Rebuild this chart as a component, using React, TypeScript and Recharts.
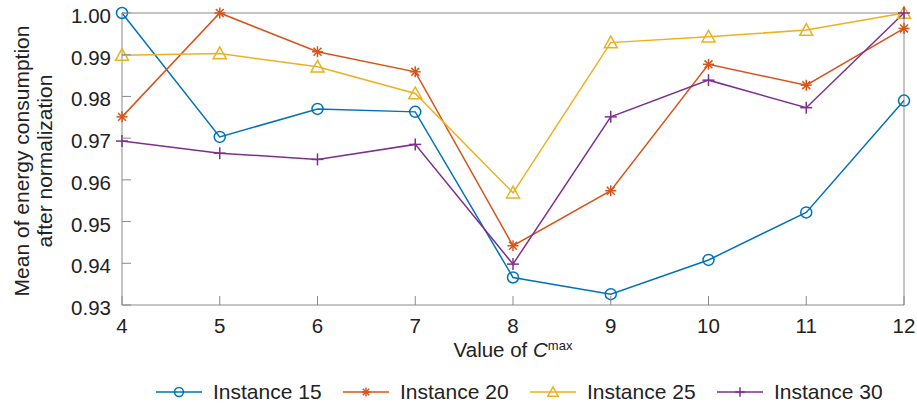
import React from "react";
import { LineChart, Line, XAxis, YAxis, ReferenceLine, Legend } from "recharts";

const cmaxValues = [4, 5, 6, 7, 8, 9, 10, 11, 12];
const instance15 = [1.0, 0.9703, 0.977, 0.9763, 0.9366, 0.9326, 0.9408, 0.9522, 0.979];
const instance20 = [0.9751, 1.0, 0.9907, 0.9859, 0.9442, 0.9574, 0.9877, 0.9827, 0.9963];
const instance25 = [0.9899, 0.9903, 0.9871, 0.9807, 0.9569, 0.9929, 0.9943, 0.9959, 1.0];
const instance30 = [0.9693, 0.9664, 0.9649, 0.9685, 0.9398, 0.9751, 0.9839, 0.9773, 1.0];
const yTicks = [0.93, 0.94, 0.95, 0.96, 0.97, 0.98, 0.99, 1.0];

const data = cmaxValues.map((c, i) => ({
  c,
  i15: instance15[i],
  i20: instance20[i],
  i25: instance25[i],
  i30: instance30[i],
}));

const FONT = "'Liberation Sans', Arial, Helvetica, sans-serif";
const TEXT = "#222";
const AXIS = "#8a8a8a";

type MarkerKind = "circle" | "star" | "triangle" | "plus";

const series: { key: string; name: string; color: string; marker: MarkerKind }[] = [
  { key: "i15", name: "Instance 15", color: "#0072BD", marker: "circle" },
  { key: "i20", name: "Instance 20", color: "#D95319", marker: "star" },
  { key: "i25", name: "Instance 25", color: "#EDB120", marker: "triangle" },
  { key: "i30", name: "Instance 30", color: "#7E2F8E", marker: "plus" },
];

function Marker({ kind, cx, cy, color, scale = 1 }: { kind: MarkerKind; cx: number; cy: number; color: string; scale?: number }) {
  const sw = 1.5;
  if (kind === "circle") {
    const r = 5.5 * scale;
    return <circle cx={cx} cy={cy} r={r} fill="none" stroke={color} strokeWidth={sw} />;
  }
  if (kind === "triangle") {
    const s = 6.5 * scale;
    const pts = `${cx},${cy - s} ${cx - s},${cy + s * 0.8} ${cx + s},${cy + s * 0.8}`;
    return <polygon points={pts} fill="none" stroke={color} strokeWidth={sw} />;
  }
  if (kind === "plus") {
    const s = 6 * scale;
    return (
      <g stroke={color} strokeWidth={sw}>
        <line x1={cx - s} x2={cx + s} y1={cy} y2={cy} />
        <line x1={cx} x2={cx} y1={cy - s} y2={cy + s} />
      </g>
    );
  }
  const s = 5.5 * scale;
  const d = s * 0.72;
  return (
    <g stroke={color} strokeWidth={sw}>
      <line x1={cx - s} x2={cx + s} y1={cy} y2={cy} />
      <line x1={cx} x2={cx} y1={cy - s} y2={cy + s} />
      <line x1={cx - d} x2={cx + d} y1={cy - d} y2={cy + d} />
      <line x1={cx - d} x2={cx + d} y1={cy + d} y2={cy - d} />
    </g>
  );
}

const makeDot = (kind: MarkerKind, color: string) => (props: any) => {
  const { cx, cy, index } = props;
  if (cx == null || cy == null) return <g key={`d-${index}`} />;
  return (
    <g key={`d-${kind}-${index}`}>
      <Marker kind={kind} cx={cx} cy={cy} color={color} />
    </g>
  );
};

const XTick = (props: any) => {
  const { x, y, payload } = props;
  return (
    <g>
      <line x1={x} x2={x} y1={y} y2={y - 9} stroke={AXIS} strokeWidth={1} />
      <text x={x} y={y + 28} textAnchor="middle" fontSize={20.5} fontFamily={FONT} fill={TEXT}>
        {payload.value}
      </text>
    </g>
  );
};

const YTick = (props: any) => {
  const { x, y, payload } = props;
  return (
    <g>
      <line x1={x} x2={x + 9} y1={y} y2={y} stroke={AXIS} strokeWidth={1} />
      <text x={x - 11} y={y + 10} textAnchor="end" fontSize={20.5} fontFamily={FONT} fill={TEXT}>
        {Number(payload.value).toFixed(2)}
      </text>
    </g>
  );
};

const XLabel = (props: any) => {
  const vb = props.viewBox || { x: 122, width: 782, y: 305 };
  const cx = vb.x + vb.width / 2;
  return (
    <text x={cx} y={357} textAnchor="middle" fontSize={20.5} fontFamily={FONT} fill={TEXT}>
      Value of <tspan fontStyle="italic">C</tspan>
      <tspan fontSize={13} dy={-7}>max</tspan>
    </text>
  );
};

const YLabel = () => (
  <text
    transform="translate(29,161) rotate(-90)"
    textAnchor="middle"
    fontSize={21}
    fontFamily={FONT}
    fill={TEXT}
  >
    <tspan x={0} y={0}>Mean of energy consumption</tspan>
    <tspan x={0} y={23}>after normalization</tspan>
  </text>
);

const LegendContent = () => (
  <div
    style={{
      display: "flex",
      alignItems: "center",
      height: 30,
      paddingLeft: 156,
      paddingTop: 3,
      fontFamily: FONT,
      fontSize: 21,
      color: TEXT,
      whiteSpace: "nowrap",
      boxSizing: "border-box",
    }}
  >
    {series.map((s) => (
      <div key={s.key} style={{ display: "flex", alignItems: "center", width: 187, flex: "0 0 187px" }}>
        <svg width={46} height={20} style={{ display: "block" }}>
          <line x1={0} x2={46} y1={10} y2={10} stroke={s.color} strokeWidth={1.5} />
          <Marker kind={s.marker} cx={23} cy={10} color={s.color} scale={0.8} />
        </svg>
        <span style={{ marginLeft: 11 }}>{s.name}</span>
      </div>
    ))}
  </div>
);

export default function App() {
  return (
    <div style={{ position: "absolute", left: 0, top: 0, width: 917, height: 405, background: "#fff" }}>
      <LineChart width={917} height={405} data={data} margin={{ top: 13, right: 13, left: 0, bottom: 0 }}>
        <ReferenceLine y={1} stroke={AXIS} strokeWidth={1} />
        <ReferenceLine x={12} stroke={AXIS} strokeWidth={1} />
        <XAxis
          dataKey="c"
          type="number"
          domain={[4, 12]}
          ticks={cmaxValues}
          interval={0}
          height={70}
          tickSize={0}
          tickMargin={0}
          tickLine={false}
          axisLine={{ stroke: AXIS, strokeWidth: 1 }}
          tick={<XTick />}
          label={<XLabel />}
        />
        <YAxis
          type="number"
          domain={[0.93, 1.0]}
          ticks={yTicks}
          interval={0}
          width={122}
          tickSize={0}
          tickMargin={0}
          tickLine={false}
          axisLine={{ stroke: AXIS, strokeWidth: 1 }}
          tick={<YTick />}
          label={<YLabel />}
        />
        {series.map((s) => (
          <Line
            key={s.key}
            type="linear"
            dataKey={s.key}
            name={s.name}
            stroke={s.color}
            strokeWidth={1.5}
            dot={makeDot(s.marker, s.color)}
            activeDot={false}
            isAnimationActive={false}
          />
        ))}
        <Legend verticalAlign="bottom" height={30} content={<LegendContent />} />
      </LineChart>
    </div>
  );
}
